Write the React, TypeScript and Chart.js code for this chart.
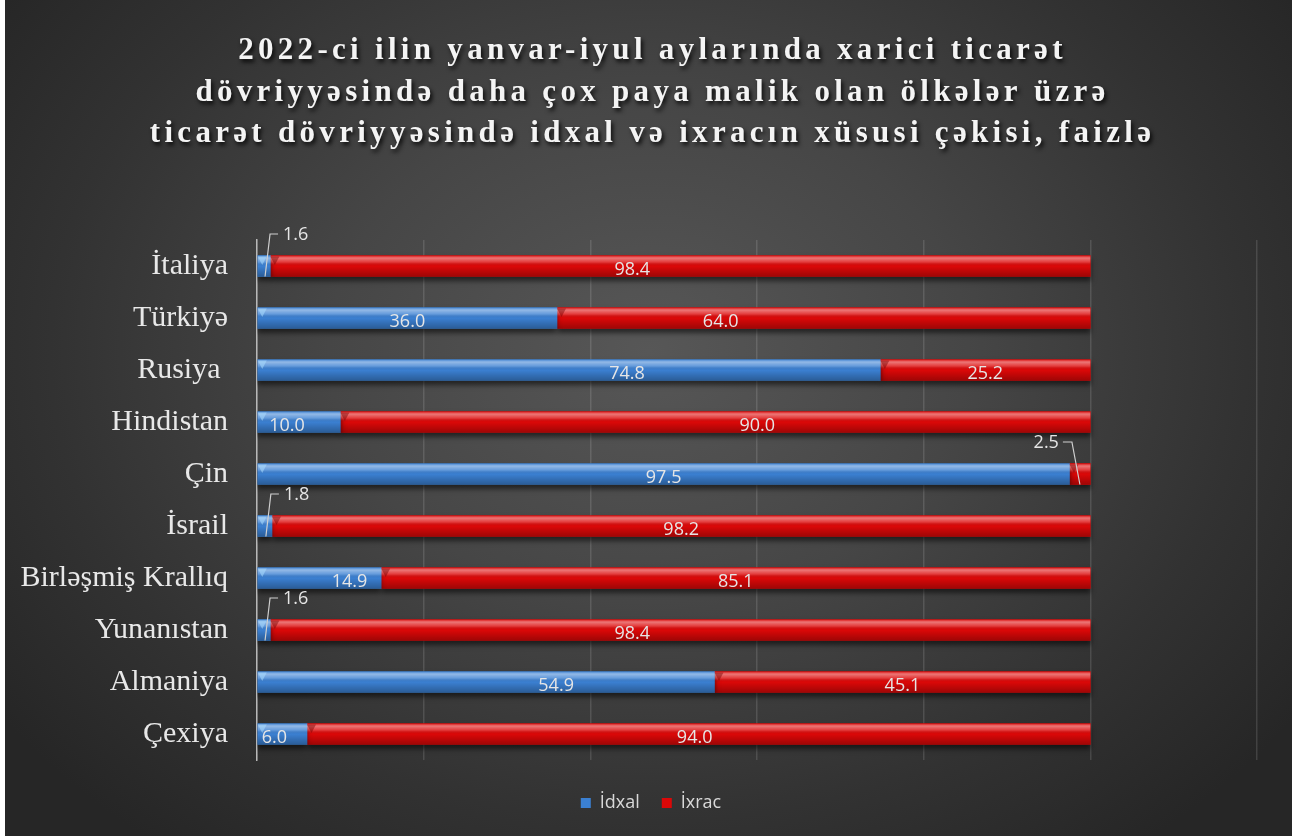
import React, { useEffect, useRef } from 'react';
import { Chart, registerables } from 'chart.js';

Chart.register(...registerables);

const titleLines = [
  '2022-ci ilin yanvar-iyul aylarında xarici ticarət',
  'dövriyyəsində daha çox paya malik olan ölkələr üzrə',
  'ticarət dövriyyəsində idxal və ixracın xüsusi çəkisi, faizlə',
];
const categories = [
  'İtaliya',
  'Türkiyə',
  'Rusiya ',
  'Hindistan',
  'Çin',
  'İsrail',
  'Birləşmiş Krallıq',
  'Yunanıstan',
  'Almaniya',
  'Çexiya',
];
const seriesNames = ['İdxal', 'İxrac'];
const idxal = [1.6, 36.0, 74.8, 10.0, 97.5, 1.8, 14.9, 1.6, 54.9, 6.0];
const ixrac = [98.4, 64.0, 25.2, 90.0, 2.5, 98.2, 85.1, 98.4, 45.1, 94.0];
const xMin = 0;
const xMax = 120;
const xStep = 20;

// label placement tweaks (pixels), separate from data
const idxalLabelShift = [0, 0, 58, -12, 0, 0, 30, 0, 70, -8];
const ixracLabelShift = [-48, -103, 0, 42, 0, 0, 0, -48, 0, -4];
const calloutLimit = 5;
const legendShift = 20;

const COLORS = ['#3b80d2', '#dc0808'];

const decoPlugin = {
  id: 'deco',
  afterLayout(chart: any) {
    if (chart.legend) {
      chart.legend.left += legendShift;
      chart.legend.right += legendShift;
    }
  },
  beforeDatasetsDraw(chart: any) {
    const ctx = chart.ctx;
    ctx.save();
    ctx.shadowColor = 'rgba(0,0,0,0.55)';
    ctx.shadowBlur = 5;
    ctx.shadowOffsetY = 4;
  },
  afterDatasetsDraw(chart: any) {
    const ctx = chart.ctx;
    ctx.restore();
    chart.data.datasets.forEach((ds: any, di: number) => {
      const meta = chart.getDatasetMeta(di);
      meta.data.forEach((el: any) => {
        const p = el.getProps(['x', 'y', 'base', 'height'], true);
        const left = Math.min(p.x, p.base);
        const w = Math.abs(p.x - p.base);
        const h = p.height;
        const top = p.y - h / 2;
        const g = ctx.createLinearGradient(0, top, 0, top + h);
        g.addColorStop(0, 'rgba(255,255,255,0.05)');
        g.addColorStop(0.12, 'rgba(255,255,255,0.45)');
        g.addColorStop(0.32, 'rgba(255,255,255,0.2)');
        g.addColorStop(0.5, 'rgba(0,0,0,0)');
        g.addColorStop(1, 'rgba(0,0,0,0.28)');
        ctx.save();
        ctx.fillStyle = g;
        ctx.fillRect(left, top, w, h);
        const tw = Math.min(9, w);
        ctx.beginPath();
        ctx.moveTo(left, top + 1);
        ctx.lineTo(left + tw, top + 1);
        ctx.lineTo(left + tw / 2, top + h * 0.45);
        ctx.closePath();
        ctx.fillStyle = di === 0 ? 'rgba(170,220,255,0.55)' : 'rgba(120,0,0,0.45)';
        ctx.fill();
        ctx.restore();
      });
    });

    ctx.save();
    ctx.font = '18px "Open Sans"';
    ctx.fillStyle = '#e6e6e6';
    ctx.strokeStyle = '#d0d0d0';
    ctx.lineWidth = 1.2;
    chart.data.datasets.forEach((ds: any, di: number) => {
      const meta = chart.getDatasetMeta(di);
      const shifts = di === 0 ? idxalLabelShift : ixracLabelShift;
      meta.data.forEach((el: any, i: number) => {
        const v = ds.data[i];
        const txt = v.toFixed(1);
        const p = el.getProps(['x', 'y', 'base', 'height'], true);
        const h = p.height;
        const mid = (p.x + p.base) / 2;
        if (v < calloutLimit) {
          const bottom = p.y + h / 2;
          const ly = p.y - 32;
          if (di === 0) {
            const sx = mid + 1;
            ctx.beginPath();
            ctx.moveTo(sx, bottom);
            ctx.lineTo(sx + 5, ly);
            ctx.lineTo(sx + 13, ly);
            ctx.stroke();
            ctx.textAlign = 'left';
            ctx.textBaseline = 'middle';
            ctx.fillText(txt, sx + 18, ly + 1);
          } else {
            const sx = mid;
            ctx.beginPath();
            ctx.moveTo(sx, bottom);
            ctx.lineTo(sx - 8, ly);
            ctx.lineTo(sx - 17, ly);
            ctx.stroke();
            ctx.textAlign = 'right';
            ctx.textBaseline = 'middle';
            ctx.fillText(txt, sx - 21, ly + 1);
          }
        } else {
          ctx.textAlign = 'center';
          ctx.textBaseline = 'middle';
          ctx.fillText(txt, mid + shifts[i], p.y + 4);
        }
      });
    });
    ctx.restore();
  },
  afterDraw(chart: any) {
    const ctx = chart.ctx;
    ctx.save();
    ctx.font = 'bold 31px "Liberation Serif"';
    (ctx as any).letterSpacing = '4.3px';
    ctx.textAlign = 'center';
    ctx.textBaseline = 'middle';
    ctx.fillStyle = '#f4f4f4';
    ctx.shadowColor = 'rgba(0,0,0,0.85)';
    ctx.shadowBlur = 4;
    ctx.shadowOffsetX = 2;
    ctx.shadowOffsetY = 3;
    const cx = chart.width / 2 + 4;
    titleLines.forEach((line, i) => {
      ctx.fillText(line, cx, 51 + i * 41.5);
    });
    ctx.restore();
  },
};

export default function App() {
  const ref = useRef<HTMLCanvasElement | null>(null);
  useEffect(() => {
    if (!ref.current) return;
    const chart = new Chart(ref.current, {
      type: 'bar',
      data: {
        labels: categories,
        datasets: [
          { label: seriesNames[0], data: idxal, backgroundColor: COLORS[0], borderWidth: 0, barThickness: 21 },
          { label: seriesNames[1], data: ixrac, backgroundColor: COLORS[1], borderWidth: 0, barThickness: 21 },
        ],
      },
      options: {
        indexAxis: 'y',
        responsive: false,
        animation: false,
        layout: { padding: { top: 240, right: 35, bottom: 14, left: 0 } },
        scales: {
          x: {
            stacked: true,
            min: xMin,
            max: xMax,
            ticks: { display: false, stepSize: xStep },
            grid: { color: 'rgba(255,255,255,0.13)', drawTicks: false, lineWidth: 1.5 },
            border: { display: false },
            afterFit: (s: any) => { s.height = 12; },
          },
          y: {
            stacked: true,
            ticks: { color: '#e8e8e8', font: { family: '"Liberation Serif"', size: 30 }, padding: 21 },
            grid: { display: false },
            border: { display: true, color: '#b8b8b8', width: 1.5 },
            afterFit: (s: any) => { s.width = 252; },
          },
        },
        plugins: {
          title: { display: false },
          tooltip: { enabled: false },
          legend: {
            position: 'bottom',
            labels: {
              color: '#d9d9d9',
              font: { family: '"Open Sans"', size: 18 },
              boxWidth: 10,
              boxHeight: 10,
              padding: 22,
            },
          },
        },
      },
      plugins: [decoPlugin],
    } as any);
    return () => chart.destroy();
  }, []);
  return (
    <div
      style={{
        position: 'absolute',
        left: 5,
        top: 0,
        width: 1287,
        height: 836,
        background:
          'radial-gradient(ellipse 62% 75% at 50% 42%, #575757 0%, #464646 40%, #323232 75%, #262626 100%)',
      }}
    >
      <canvas ref={ref} width={1287} height={836} style={{ display: 'block' }} />
    </div>
  );
}
